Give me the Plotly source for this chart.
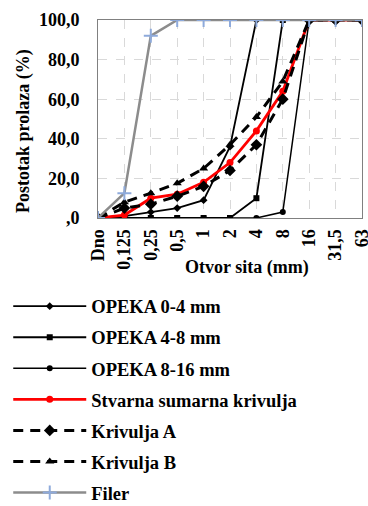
import plotly.graph_objects as go

categories = ["Dno", "0,125", "0,25", "0,5", "1", "2", "4", "8", "16", "31,5", "63"]
opeka_0_4 = [0, 1, 3, 5, 9, 36, 100, 100, 100, 100, 100]
opeka_4_8 = [0, 0, 0, 0, 0, 0, 10, 100, 100, 100, 100]
opeka_8_16 = [0, 0, 0, 0, 0, 0, 0, 3, 100, 100, 100]
stvarna = [0, 1.5, 10, 12, 18, 28, 44, 64, 100, 100, 100]
krivulja_a = [0, 5, 7, 11, 16, 24, 37, 60, 100, 100, 100]
krivulja_b = [0, 8, 12.5, 17.5, 25, 37, 51, 69, 100, 100, 100]
filer = [0, 12.5, 92, 100, 100, 100, 100, 100, 100, 100, 100]
y_ticks = [0, 20, 40, 60, 80, 100]
y_ticktext = [",0", "20,0", "40,0", "60,0", "80,0", "100,0"]

FONT = "Liberation Serif, Times New Roman, serif"
FS = 18
BF = dict(family=FONT, size=FS, color="black", weight="bold")

series = [
    ("OPEKA 0-4 mm", opeka_0_4, dict(color="black", width=1.8), dict(symbol="diamond", size=6, color="black")),
    ("OPEKA 4-8 mm", opeka_4_8, dict(color="black", width=1.8), dict(symbol="square", size=6, color="black")),
    ("OPEKA 8-16 mm", opeka_8_16, dict(color="black", width=1.5), dict(symbol="circle", size=6, color="black")),
    ("Stvarna sumarna krivulja", stvarna, dict(color="#ff0000", width=2.8), dict(symbol="circle", size=7, color="#ff0000")),
    ("Krivulja A", krivulja_a, dict(color="black", width=3, dash="10px,7px"), dict(symbol="diamond", size=9, color="black")),
    ("Krivulja B", krivulja_b, dict(color="black", width=3, dash="10px,7px"), dict(symbol="triangle-up", size=8, color="black")),
    ("Filer", filer, dict(color="#8c8c8c", width=2.5), dict(symbol="cross-thin", size=10, color="#8eaadb", line=dict(color="#8eaadb", width=2))),
]

fig = go.Figure()
for i, (name, vals, line, marker) in enumerate(series):
    fig.add_trace(go.Scatter(
        x=categories, y=vals, name=name, mode="lines+markers",
        line=line, marker=marker, legendgroup=f"g{i}",
    ))

fig.update_layout(
    width=368, height=506,
    margin=dict(l=98, r=6, t=20, b=288, autoexpand=False),
    paper_bgcolor="white", plot_bgcolor="white",
    font=BF,
    showlegend=True,
    legend=dict(
        orientation="v", x=-0.34, xanchor="left", y=-0.352, yanchor="top",
        font=dict(family=FONT, size=18.5, color="black", weight="bold"),
        tracegroupgap=4, itemwidth=73, traceorder="grouped",
        bgcolor="rgba(0,0,0,0)",
    ),
    xaxis=dict(
        type="category", range=[0, 10], tickangle=-90,
        showgrid=True, gridcolor="#d9d9d9", griddash="dash", gridwidth=1,
        showline=True, linecolor="#808080", mirror=True, linewidth=1,
        ticks="outside", ticklen=3, tickcolor="rgba(0,0,0,0)",
        tickfont=BF, zeroline=False,
    ),
    yaxis=dict(
        range=[0, 100], tickvals=y_ticks, ticktext=y_ticktext,
        showgrid=True, gridcolor="#d9d9d9", griddash="dash", gridwidth=1,
        showline=True, linecolor="#808080", mirror=True, linewidth=1,
        ticks="outside", ticklen=14, tickcolor="rgba(0,0,0,0)",
        tickfont=BF, zeroline=False,
    ),
    annotations=[
        dict(text="Otvor sita (mm)", xref="paper", yref="paper", x=0.564, y=-0.2525,
             xanchor="center", yanchor="middle", showarrow=False, font=BF),
        dict(text="Postotak prolaza (%)", xref="paper", yref="paper", x=-0.28, y=0.44,
             xanchor="center", yanchor="middle", textangle=-90, showarrow=False, font=BF),
    ],
)
fig.write_html(
    "out.html",
    config={"displayModeBar": False},
    post_script="document.body.style.margin='0';document.body.style.overflow='hidden';",
)
